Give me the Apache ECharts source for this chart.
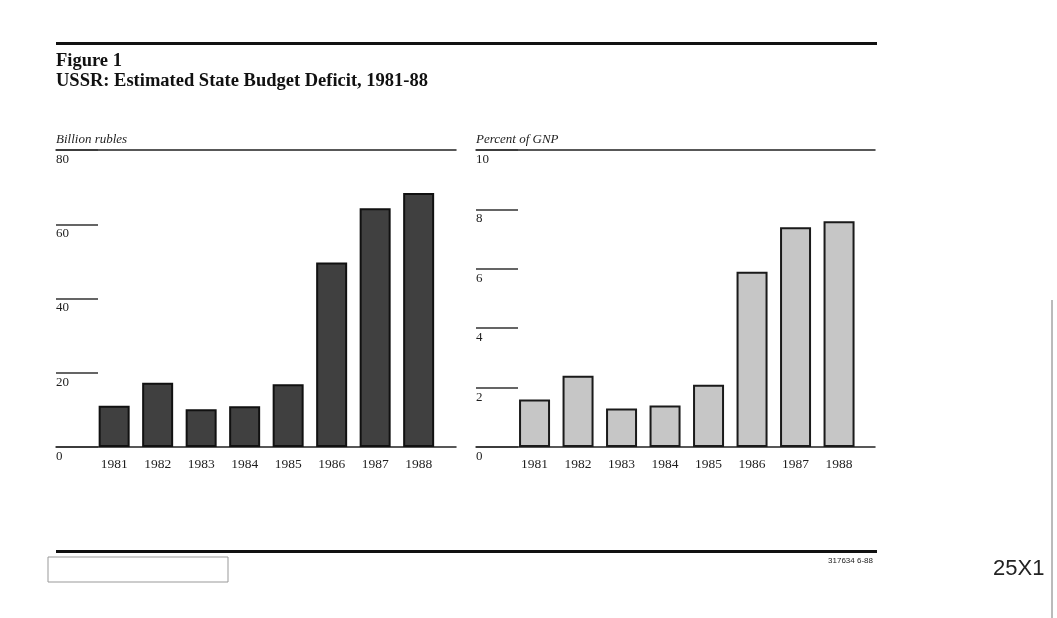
<!DOCTYPE html>
<html>
<head>
<meta charset="utf-8">
<script src="https://cdn.jsdelivr.net/npm/echarts@6/dist/echarts.min.js"></script>
<style>
  html, body { margin: 0; padding: 0; background: #fff; }
  #budget_chart { width: 1057px; height: 618px; }
</style>
</head>
<body>
<div id="budget_chart"></div>
<script>
// 연도 / 값
var years = ['1981', '1982', '1983', '1984', '1985', '1986', '1987', '1988']
var deficitRubles = [11.1, 17.3, 10.2, 11.0, 16.9, 49.7, 64.3, 68.4]   // billion rubles
var deficitGnp = [1.6, 2.4, 1.3, 1.4, 2.1, 5.9, 7.4, 7.6]              // percent of GNP
var rublesTicks = { min: 0, max: 80, interval: 20 }
var gnpTicks = { min: 0, max: 10, interval: 2 }

var serif = "'Liberation Serif', 'DejaVu Serif', serif"
var ink = '#1e1e1e'

var budgetChart = echarts.init(document.getElementById('budget_chart'))

// 눈금 축 (짧은 가로선 + 아래쪽 라벨)
function tickAxis (grid, ticks, name) {
  return {
    type: 'value',
    gridIndex: grid,
    min: ticks.min,
    max: ticks.max,
    interval: ticks.interval,
    name: name,
    nameLocation: 'end',
    nameGap: 4,
    nameTextStyle: {
      fontFamily: serif, fontStyle: 'italic', fontSize: 13, color: ink,
      align: 'left', verticalAlign: 'bottom'
    },
    axisLine: { show: false },
    axisTick: { show: true, inside: true, length: 42, lineStyle: { color: '#333', width: 1.5 } },
    splitLine: { show: false },
    axisLabel: {
      inside: true, margin: 0, align: 'left', verticalAlign: 'top', padding: [3, 0, 0, 0],
      fontFamily: serif, fontSize: 13, color: ink
    }
  }
}

// 위/아래 전체 가로선
function frameLine (grid, pos) {
  return {
    type: 'value', gridIndex: grid, position: pos, min: 0, max: 1,
    axisLine: { show: true, lineStyle: { color: '#222', width: 1.5 } },
    axisTick: { show: false }, axisLabel: { show: false }, splitLine: { show: false }
  }
}

function yearAxis (grid) {
  return {
    type: 'category', gridIndex: grid, data: years,
    axisLine: { show: false }, axisTick: { show: false },
    axisLabel: { margin: 10, fontFamily: serif, fontSize: 13.5, color: ink }
  }
}

function hiddenY (grid, ticks) {
  return { type: 'value', gridIndex: grid, min: ticks.min, max: ticks.max, show: false }
}

option = {
  backgroundColor: '#fff',
  animation: false,
  grid: [
    { left: 56, top: 150, width: 400, height: 297 },     // 왼쪽 프레임
    { left: 92.4, top: 150, width: 348, height: 297 },   // 왼쪽 막대
    { left: 476, top: 150, width: 399, height: 297 },    // 오른쪽 프레임
    { left: 512.8, top: 150, width: 348, height: 297 }   // 오른쪽 막대
  ],
  xAxis: [
    frameLine(0, 'bottom'),
    frameLine(0, 'top'),
    yearAxis(1),
    frameLine(2, 'bottom'),
    frameLine(2, 'top'),
    yearAxis(3)
  ],
  yAxis: [
    tickAxis(0, rublesTicks, 'Billion rubles'),
    hiddenY(1, rublesTicks),
    tickAxis(2, gnpTicks, 'Percent of GNP'),
    hiddenY(3, gnpTicks)
  ],
  series: [
    {
      name: 'Billion rubles',
      type: 'bar',
      xAxisIndex: 2,
      yAxisIndex: 1,
      barWidth: 31,
      data: deficitRubles,
      itemStyle: { color: '#404040', borderColor: '#111', borderWidth: 2 }
    },
    {
      name: 'Percent of GNP',
      type: 'bar',
      xAxisIndex: 5,
      yAxisIndex: 3,
      barWidth: 31,
      data: deficitGnp,
      itemStyle: { color: '#c6c6c6', borderColor: '#1a1a1a', borderWidth: 2 }
    }
  ],
  graphic: [
    // 상단 굵은 선
    { type: 'rect', shape: { x: 56, y: 42, width: 821, height: 3 }, style: { fill: '#111' } },
    { type: 'text', left: 56, top: 52, style: { text: 'Figure 1', font: 'bold 18.5px ' + serif, fill: '#111' } },
    { type: 'text', left: 56, top: 72, style: { text: 'USSR: Estimated State Budget Deficit, 1981-88', font: 'bold 18.5px ' + serif, fill: '#111' } },
    // 하단 굵은 선
    { type: 'rect', shape: { x: 56, y: 550, width: 821, height: 3 }, style: { fill: '#111' } },
    { type: 'rect', shape: { x: 48, y: 557, width: 180, height: 25 }, style: { fill: '#fff', stroke: '#999', lineWidth: 1 } },
    { type: 'text', right: 184, top: 557, style: { text: '317634 6-88', font: '8px "Liberation Sans Narrow", "Liberation Sans", sans-serif', fill: '#222' } },
    { type: 'text', left: 993, top: 558, style: { text: '25X1', font: '22px "Liberation Sans", Arial, sans-serif', fill: '#222' } },
    { type: 'line', shape: { x1: 1052, y1: 300, x2: 1052, y2: 618 }, style: { stroke: '#777', lineWidth: 1 } }
  ]
};

//  차트 옵션 설정하기
budgetChart.setOption(option)
</script>
</body>
</html>
